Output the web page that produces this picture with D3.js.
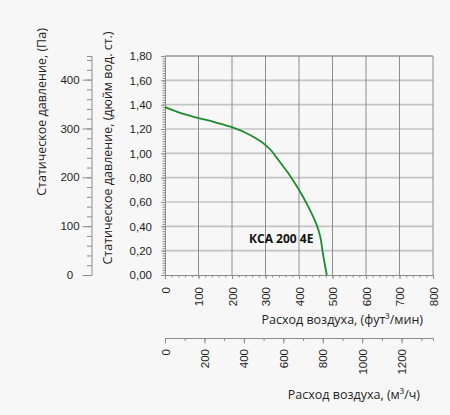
<!DOCTYPE html>
<html>
<head>
<meta charset="utf-8">
<script src="https://cdn.jsdelivr.net/npm/d3@7"></script>
<style>
  body { margin: 0; background: #f7f7f7; }
  svg { display: block; font-family: "Open Sans", sans-serif; }
  .domain { stroke: #8a8a8a; }
  .tick line { stroke: #8a8a8a; }
  .tick text { fill: #1e1e1e; font-size: 11.5px; }
</style>
</head>
<body>
<svg id="chart" width="450" height="415"></svg>
<script>
// Airflow (cfm) and static pressure (in. wg)
const flowCfm = [0, 50, 100, 150, 200, 254, 284, 300, 319, 334, 364, 379, 399, 428, 453, 463, 473, 483];
const pressureInWg = [1.38, 1.328, 1.29, 1.255, 1.215, 1.151, 1.101, 1.068, 1.017, 0.962, 0.852, 0.792, 0.705, 0.56, 0.41, 0.32, 0.15, 0];

// tick values
const cfmTicks = [0, 100, 200, 300, 400, 500, 600, 700, 800];
const inWgTicks = [0, 0.2, 0.4, 0.6, 0.8, 1.0, 1.2, 1.4, 1.6, 1.8];
const paTicks = [0, 100, 200, 300, 400];
const m3hTicks = [0, 200, 400, 600, 800, 1000, 1200];

const curveName = "КСА 200 4Е";

// unit conversions used for the secondary axes
const PA_PER_INWG = 249.089;
const M3H_PER_CFM = 1.699;

const svg = d3.select("#chart");
svg.append("rect").attr("width", 450).attr("height", 415).attr("fill", "#f7f7f7");

const plot = { left: 165, right: 433, top: 56, bottom: 275 };

// main scales
const x = d3.scaleLinear().domain([0, 800]).range([plot.left, plot.right]);
const y = d3.scaleLinear().domain([0, 1.8]).range([plot.bottom, plot.top]);
// secondary scales
const yPa = d3.scaleLinear().domain([0, 1.8 * PA_PER_INWG]).range([plot.bottom, plot.top]);
const xM3h = d3.scaleLinear().domain([0, 800 * M3H_PER_CFM]).range([plot.left, plot.right]);

const ru = d3.formatLocale({ decimal: ",", thousands: " ", grouping: [3], currency: ["", ""] });
const fmt2 = ru.format(".2f");

// horizontal grid lines
svg.append("g")
    .selectAll("line")
    .data(inWgTicks.slice(1))
    .enter()
    .append("line")
    .attr("x1", plot.left).attr("x2", plot.right)
    .attr("y1", d => y(d)).attr("y2", d => y(d))
    .attr("stroke", "#c4c4c4")
    .attr("stroke-width", 1.6);

// vertical grid lines
svg.append("g")
    .selectAll("line")
    .data(cfmTicks.slice(1))
    .enter()
    .append("line")
    .attr("x1", d => x(d)).attr("x2", d => x(d))
    .attr("y1", plot.top).attr("y2", plot.bottom)
    .attr("stroke", "#8e8e8e")
    .attr("stroke-width", 1);

// minor ticks on the main axes
svg.append("g")
    .attr("transform", `translate(0,${plot.bottom})`)
    .call(d3.axisBottom(x).ticks(40).tickSize(2.5).tickFormat(""))
    .call(g => g.select(".domain").remove());
svg.append("g")
    .attr("transform", `translate(${plot.left},0)`)
    .call(d3.axisLeft(y).ticks(90).tickSize(2.5).tickFormat(""))
    .call(g => g.select(".domain").remove());

// x axis (cfm)
svg.append("g")
    .attr("transform", `translate(0,${plot.bottom})`)
    .call(d3.axisBottom(x).tickValues(cfmTicks).tickSize(4).tickSizeOuter(0))
    .call(g => g.selectAll(".tick text")
        .attr("text-anchor", "end")
        .attr("transform", "translate(0,12) rotate(-90)")
        .attr("x", 0).attr("y", 0).attr("dy", "0.35em"));

// y axis (in. wg)
svg.append("g")
    .attr("transform", `translate(${plot.left},0)`)
    .call(d3.axisLeft(y).tickValues(inWgTicks).tickFormat(fmt2).tickSize(4).tickPadding(9).tickSizeOuter(0));

// Pa axis
const paAxisX = 91.5;
svg.append("g")
    .attr("transform", `translate(${paAxisX},0)`)
    .call(d3.axisLeft(yPa).ticks(22).tickSize(4.5).tickFormat(""));
svg.append("g")
    .attr("transform", `translate(${paAxisX},0)`)
    .call(d3.axisLeft(yPa).tickValues(paTicks).tickSize(9).tickSizeOuter(0))
    .call(g => g.select(".domain").remove())
    .call(g => g.selectAll(".tick text").attr("text-anchor", "middle").attr("x", -21.5));

// m3/h axis
const m3hAxisY = 338;
svg.append("g")
    .attr("transform", `translate(0,${m3hAxisY})`)
    .call(d3.axisBottom(xM3h).ticks(14).tickSize(3).tickFormat(""));
svg.append("g")
    .attr("transform", `translate(0,${m3hAxisY})`)
    .call(d3.axisBottom(xM3h).tickValues(m3hTicks).tickFormat(d3.format("d")).tickSize(5.5).tickSizeOuter(0))
    .call(g => g.select(".domain").remove())
    .call(g => g.selectAll(".tick text")
        .attr("text-anchor", "end")
        .attr("transform", "translate(0,11) rotate(-90)")
        .attr("x", 0).attr("y", 0).attr("dy", "0.35em"));

// top border
svg.append("line")
    .attr("x1", plot.left).attr("x2", plot.right)
    .attr("y1", y(1.8)).attr("y2", y(1.8))
    .attr("stroke", "#8e8e8e");

// fan curve
const pts = flowCfm.map((f, i) => [f, pressureInWg[i]]);
svg.append("path")
    .datum(pts)
    .attr("fill", "none")
    .attr("stroke", "#1e8c2c")
    .attr("stroke-width", 1.8)
    .attr("d", d3.line().x(d => x(d[0])).y(d => y(d[1])).curve(d3.curveCatmullRom.alpha(0.5)));

svg.append("text")
    .attr("x", 249).attr("y", 243)
    .attr("font-size", 12).attr("font-weight", "bold")
    .attr("fill", "#111")
    .text(curveName);

// axis titles
const titles = [
    { text: "Статическое давление, (Па)", x: 46, y: 112, rot: true, anchor: "middle" },
    { text: "Статическое давление, (дюйм вод. ст.)", x: 112, y: 148, rot: true, anchor: "middle" },
    { text: "Расход воздуха, (фут³/мин)", x: 423, y: 324, rot: false, anchor: "end" },
    { text: "Расход воздуха, (м³/ч)", x: 420, y: 399, rot: false, anchor: "end" }
];
svg.append("g")
    .selectAll("text")
    .data(titles)
    .enter()
    .append("text")
    .attr("transform", d => `translate(${d.x},${d.y})` + (d.rot ? " rotate(-90)" : ""))
    .attr("text-anchor", d => d.anchor)
    .attr("font-size", 12.5)
    .attr("fill", "#1e1e1e")
    .text(d => d.text);
</script>
</body>
</html>
